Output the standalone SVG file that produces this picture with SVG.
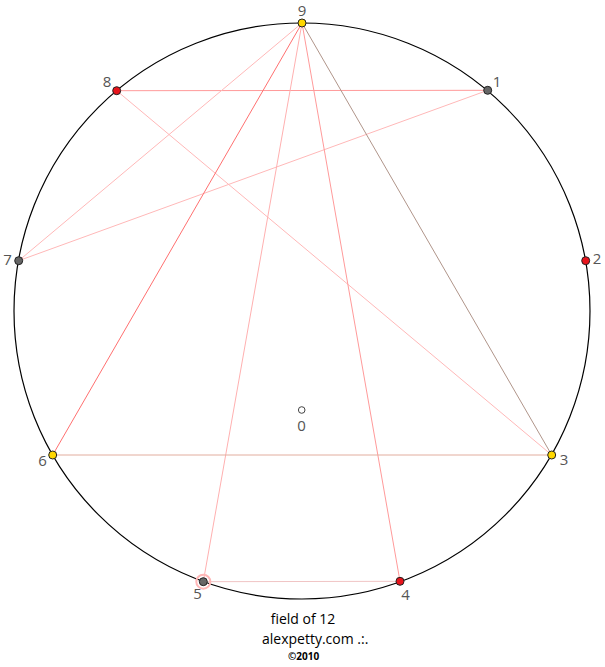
<svg xmlns="http://www.w3.org/2000/svg" width="605" height="667" viewBox="0 0 605 667">
<style>
.lbl{font-family:"Open Sans","Liberation Sans",sans-serif;font-size:15px;fill:#555;text-anchor:middle}
.ln{fill:none;stroke-width:1}
.dot{stroke:#222;stroke-width:1}
.y{fill:#ffd700}.r{fill:#e8141c}.g{fill:#666}
.ft{font-family:"Open Sans","Liberation Sans",sans-serif;fill:#000}
</style>
<rect width="605" height="667" fill="#fff"/>
<circle cx="302" cy="311" r="288" fill="none" stroke="#000" stroke-width="1.2"/>
<g id="connectors">
<line class="ln" x1="116.7" y1="90.7" x2="487.7" y2="90.3" stroke="#ff9a9a"/>
<line class="ln" x1="302" y1="23" x2="18.7" y2="260.7" stroke="#ffb8b8"/>
<line class="ln" x1="487.7" y1="90.3" x2="18.7" y2="260.7" stroke="#ffb8b8"/>
<line class="ln" x1="116.7" y1="90.7" x2="551.7" y2="455" stroke="#ffb8b8"/>
<line class="ln" x1="302" y1="23" x2="52.7" y2="455" stroke="#ff7070"/>
<line class="ln" x1="302" y1="23" x2="203.3" y2="581.7" stroke="#ffb0b0"/>
<line class="ln" x1="302" y1="23" x2="400" y2="581.3" stroke="#ff9a9a"/>
<line class="ln" x1="302" y1="23" x2="551.7" y2="455" stroke="#b0958a" stroke-width="1.3"/>
<line class="ln" x1="52.7" y1="455" x2="551.7" y2="455" stroke="#e2ad9e" stroke-width="1.8"/>
<line class="ln" x1="203.3" y1="581.7" x2="400" y2="581.3" stroke="#f0c4c4"/>
<circle cx="203.3" cy="581.7" r="7" fill="none" stroke="#ffb6b6" stroke-width="2"/>
</g>
<g id="n9"><circle class="dot y" cx="302" cy="23" r="4"/><text class="lbl" x="302" y="16">9</text></g>
<g id="n8"><circle class="dot r" cx="116.7" cy="90.7" r="4"/><text class="lbl" x="107" y="87">8</text></g>
<g id="n1"><circle class="dot g" cx="487.7" cy="90.3" r="4"/><text class="lbl" x="497" y="87">1</text></g>
<g id="n7"><circle class="dot g" cx="18.7" cy="260.7" r="4"/><text class="lbl" x="7.5" y="265">7</text></g>
<g id="n2"><circle class="dot r" cx="585.7" cy="260.7" r="4"/><text class="lbl" x="597" y="264">2</text></g>
<g id="n6"><circle class="dot y" cx="52.7" cy="455" r="4"/><text class="lbl" x="42.5" y="466">6</text></g>
<g id="n3"><circle class="dot y" cx="551.7" cy="455" r="4"/><text class="lbl" x="564" y="465">3</text></g>
<g id="n5"><circle class="dot g" cx="203.3" cy="581.7" r="4"/><text class="lbl" x="197.5" y="599">5</text></g>
<g id="n4"><circle class="dot r" cx="400" cy="581.3" r="4"/><text class="lbl" x="405.5" y="600">4</text></g>
<g id="n0"><circle cx="301.7" cy="410" r="3.3" fill="#fff" stroke="#444" stroke-width="1"/><text class="lbl" x="301.5" y="431">0</text></g>
<g id="caption">
<text class="ft" x="303" y="624" font-size="14" text-anchor="middle">field of 12</text>
<text class="ft" x="262" y="644" font-size="14">alexpetty.com .:.</text>
<text class="ft" x="288" y="660" font-size="10" font-weight="bold">©2010</text>
</g>
</svg>
